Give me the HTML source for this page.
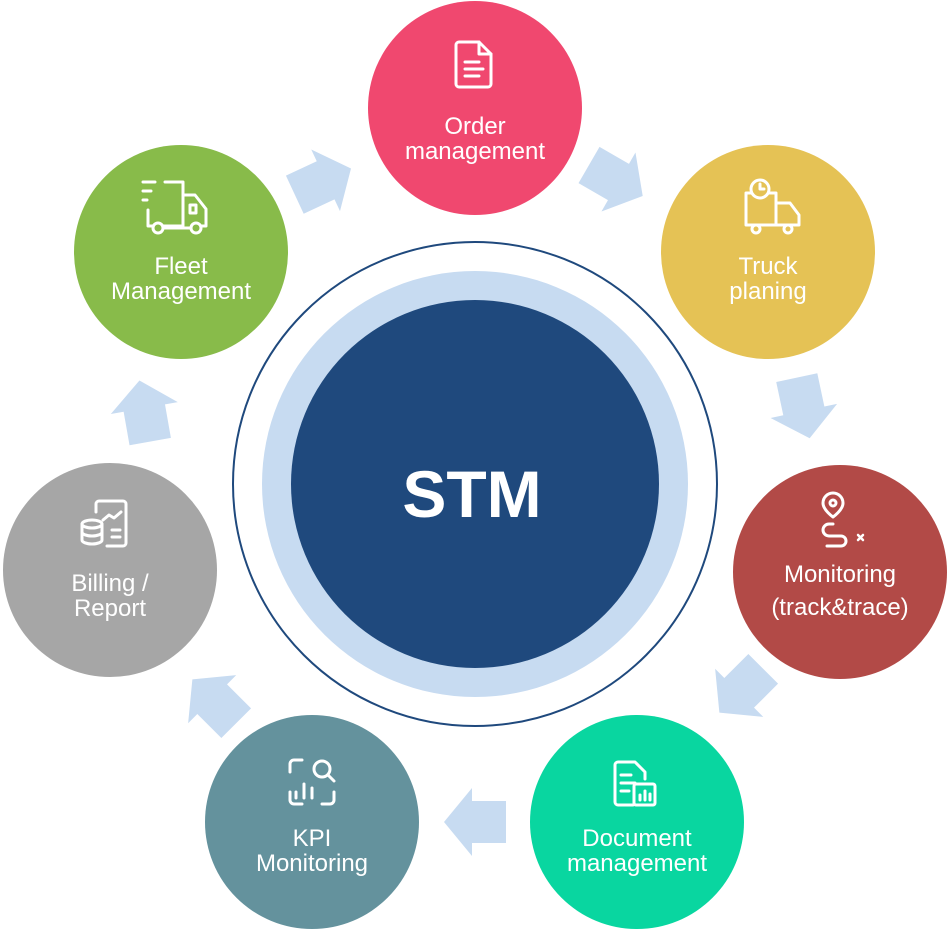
<!DOCTYPE html>
<html><head><meta charset="utf-8"><style>
html,body{margin:0;padding:0;background:#fff;}
svg{display:block}
text{font-family:"Liberation Sans",Arial,sans-serif;fill:#fff;text-anchor:middle}
.ic{fill:none;stroke:#fff;stroke-width:3;stroke-linecap:round;stroke-linejoin:round}
</style></head><body>
<svg width="950" height="933" viewBox="0 0 950 933" xmlns="http://www.w3.org/2000/svg">
<defs>
<polygon id="ar" points="-30,-21 4,-21 4,-34 32,0 4,34 4,21 -30,21" fill="#C7DBF1"/>
</defs>
<use href="#ar" transform="translate(322,182) rotate(-25)"/>
<use href="#ar" transform="translate(615,180) rotate(30)"/>
<use href="#ar" transform="translate(803,407) rotate(78)"/>
<use href="#ar" transform="translate(742,690) rotate(135)"/>
<use href="#ar" transform="translate(476,822) rotate(180)"/>
<use href="#ar" transform="translate(215,702) rotate(-135)"/>
<use href="#ar" transform="translate(145,412) rotate(-100)"/>

<circle cx="475" cy="484" r="242" fill="#fff" stroke="#1F497D" stroke-width="2"/>
<circle cx="475" cy="484" r="213" fill="#C7DBF1"/>
<circle cx="475" cy="484" r="184" fill="#1F497D"/>
<text x="472" y="517" font-size="66" font-weight="bold">STM</text>

<circle cx="475" cy="108" r="107" fill="#F0486F"/>
<g class="ic"><path d="M459 42 h20 l12 12 v30 a3 3 0 0 1 -3 3 h-29 a3 3 0 0 1 -3 -3 v-39 a3 3 0 0 1 3 -3z"/><path d="M479 42 v12 h12"/><path d="M465 62 h14 M465 69 h18 M465 76 h14"/></g>
<text x="475" y="134" font-size="24">Order</text>
<text x="475" y="159" font-size="24">management</text>

<circle cx="768" cy="252" r="107" fill="#E5C255"/>
<g class="ic"><path d="M746 193 h30 v32 h-30z"/><path d="M776 203 h14 l9 12 v10 h-23"/><circle cx="756" cy="229" r="4"/><circle cx="788" cy="229" r="4"/><circle cx="760" cy="189" r="9" fill="#E5C255"/><path d="M760 184 v5 h4"/></g>
<text x="768" y="274" font-size="24">Truck</text>
<text x="768" y="299" font-size="24">planing</text>

<circle cx="840" cy="572" r="107" fill="#B24A47"/>
<g class="ic"><path d="M833 493 a10 10 0 0 1 10 10 c0 7 -10 14 -10 14 c0 0 -10 -7 -10 -14 a10 10 0 0 1 10 -10z"/><circle cx="833" cy="503" r="3"/><path d="M833 524 h-4 a6 6 0 0 0 0 12 h12 a5 5 0 0 1 0 10 h-14"/><path d="M858 535 l5 5 M863 535 l-5 5" stroke-width="2.5"/></g>
<text x="840" y="582" font-size="24">Monitoring</text>
<text x="840" y="615" font-size="24">(track&amp;trace)</text>

<circle cx="637" cy="822" r="107" fill="#09D6A0"/>
<g class="ic"><path d="M633 805 h-15 a3 3 0 0 1 -3 -3 v-37 a3 3 0 0 1 3 -3 h17 l10 10 v7"/><path d="M621 775 h10 M621 783 h14 M621 791 h8"/><rect x="634" y="784" width="21" height="21" rx="2"/><path d="M640 800 v-5 M645 800 v-9 M650 800 v-6"/></g>
<text x="637" y="846" font-size="24">Document</text>
<text x="637" y="871" font-size="24">management</text>

<circle cx="312" cy="822" r="107" fill="#64929D"/>
<g class="ic"><path d="M290 772 v-8 a4 4 0 0 1 4 -4 h8 M290 792 v8 a4 4 0 0 0 4 4 h8 M322 804 h8 a4 4 0 0 0 4 -4 v-8"/><circle cx="322" cy="769" r="8"/><path d="M328 775 l6 6"/><path d="M296 798 v-6 M304 798 v-14 M312 798 v-10"/></g>
<text x="312" y="846" font-size="24">KPI</text>
<text x="312" y="871" font-size="24">Monitoring</text>

<circle cx="110" cy="570" r="107" fill="#A6A6A6"/>
<g class="ic"><path d="M96 512 v-8 a3 3 0 0 1 3 -3 h24 a3 3 0 0 1 3 3 v39 a3 3 0 0 1 -3 3 h-16"/><path d="M103 520 l6 -5 l5 3 l7 -6"/><path d="M112 530 h8 M112 537 h8"/><ellipse cx="92" cy="524" rx="10" ry="4"/><path d="M82 524 v16 a10 4 0 0 0 20 0 v-16 M82 532 a10 4 0 0 0 20 0"/></g>
<text x="110" y="591" font-size="24">Billing /</text>
<text x="110" y="616" font-size="24">Report</text>

<circle cx="181" cy="252" r="107" fill="#88BB4A"/>
<g class="ic"><path d="M143 182 h12 M143 191 h8 M143 200 h4"/><path d="M165 182 h18 v44 h-20 M148 210 v16 h5"/><path d="M183 195 h12 l11 14 v17 h-4"/><path d="M190 205 h6 v8 h-6z"/><circle cx="158" cy="228" r="5"/><circle cx="196" cy="228" r="5"/><path d="M163 228 h28"/></g>
<text x="181" y="274" font-size="24">Fleet</text>
<text x="181" y="299" font-size="24">Management</text>
</svg>
</body></html>
